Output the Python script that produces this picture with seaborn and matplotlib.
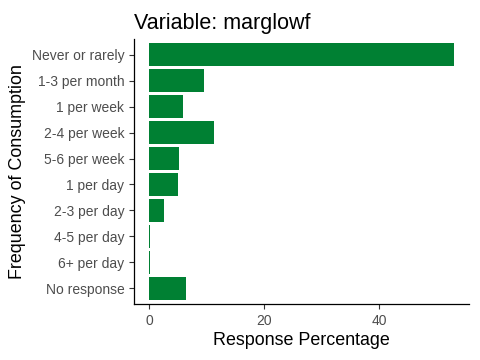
import matplotlib
matplotlib.use("Agg")
import matplotlib.pyplot as plt
import seaborn as sns
import pandas as pd

# Values
categories = ['Never or rarely', '1-3 per month', '1 per week', '2-4 per week',
              '5-6 per week', '1 per day', '2-3 per day', '4-5 per day',
              '6+ per day', 'No response']
percentages = [53.0, 9.6, 5.9, 11.3, 5.2, 5.0, 2.6, 0.2, 0.08, 6.4]

df = pd.DataFrame({'Frequency': categories, 'Percent': percentages})

sns.set_style("ticks")
plt.rcParams['font.family'] = ['Liberation Sans', 'DejaVu Sans']

fig = plt.figure(figsize=(4.8, 3.6), dpi=100)
ax = fig.add_axes([134 / 480, 1 - 304 / 360, (469 - 134) / 480, (304 - 39) / 360])

sns.barplot(data=df, x='Percent', y='Frequency', order=categories,
            color='#008033', saturation=1, width=0.9, linewidth=0, ax=ax)

xmax = max(percentages)
ax.set_xlim(-0.05 * xmax, xmax * 1.05)
ax.set_ylim(len(categories) - 0.4, -0.6)
ax.set_xticks([0, 20, 40])

ax.set_title('Variable: marglowf', loc='left', fontsize=15.5, pad=7, color='black')
ax.set_xlabel('Response Percentage', fontsize=12.9, labelpad=3, color='black')
ax.set_ylabel('Frequency of Consumption', fontsize=12.9, labelpad=4, color='black')

ax.tick_params(axis='both', labelsize=10, length=3.5, width=0.8,
               labelcolor='#4D4D4D', color='#333333')
for side in ['top', 'right']:
    ax.spines[side].set_visible(False)
for side in ['left', 'bottom']:
    ax.spines[side].set_color('black')
    ax.spines[side].set_linewidth(0.9)

fig.savefig('out.png', dpi=100)
